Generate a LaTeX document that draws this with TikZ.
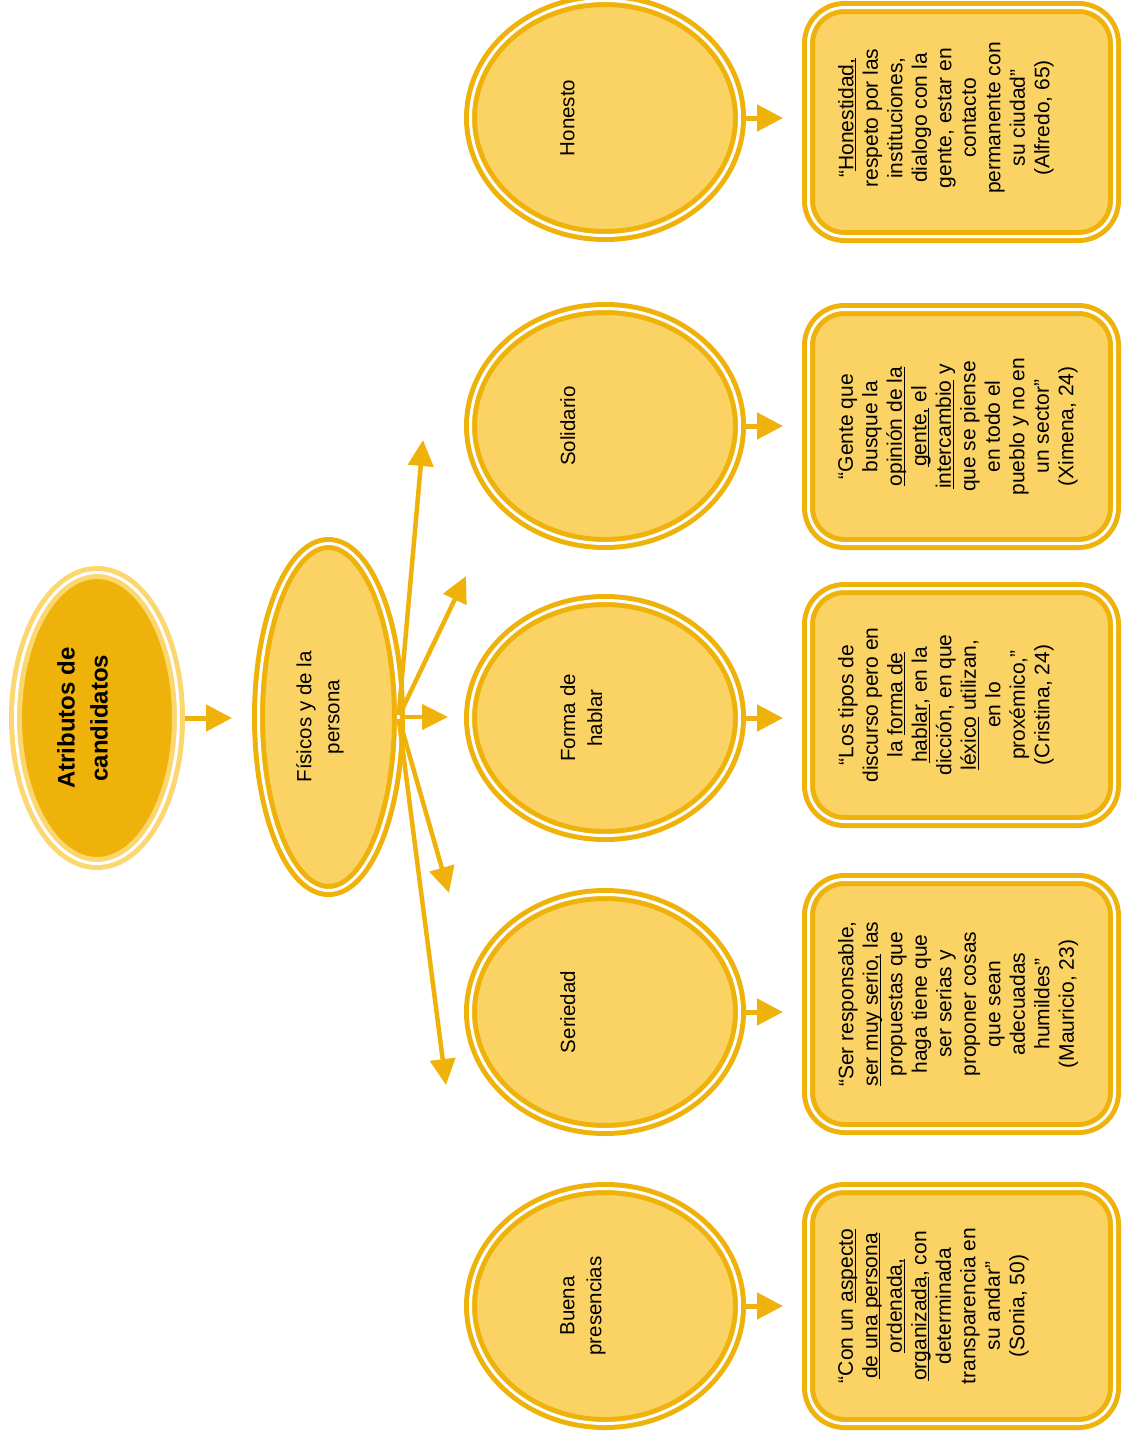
\documentclass[tikz,border=0pt]{standalone}
\usepackage{fontspec}
\setmainfont{Liberation Sans}
\usetikzlibrary{arrows.meta,shapes.geometric}
\newsavebox\ulbox
\newcommand{\uln}[1]{\sbox\ulbox{#1}\rlap{\rule[-3pt]{\wd\ulbox}{1.3pt}}\usebox\ulbox}
\definecolor{gold}{RGB}{239,178,11}
\definecolor{lightfill}{RGB}{250,211,100}
\definecolor{pale}{RGB}{252,214,110}
\tikzset{
 ring/.style={ellipse, inner sep=0pt, outer sep=0pt, draw=gold, double=white, double distance=3pt, line width=5pt, fill=lightfill},
 rootring/.style={ellipse, inner sep=0pt, outer sep=0pt, draw=pale, double=white, double distance=3pt, line width=5pt, fill=gold},
 lvlring/.style={ring, minimum width=269pt, minimum height=235pt},
 qbox/.style={rectangle, rounded corners=36pt, inner sep=0pt, outer sep=0pt, draw=gold, double=white, double distance=3pt, line width=5pt, fill=lightfill, minimum width=306pt},
 roottext/.style={rotate=90, anchor=north, align=center, inner sep=0pt, font=\bfseries\fontsize{24}{33}\selectfont},
 fistext/.style={rotate=90, anchor=north, align=center, inner sep=0pt, font=\fontsize{20.5}{28}\selectfont},
 lvltext/.style={rotate=90, anchor=north, align=center, inner sep=0pt, font=\fontsize{20.5}{27}\selectfont},
 qtext/.style={rotate=90, anchor=north, align=center, inner sep=0pt, font=\fontsize{21}{24.5}\selectfont},
 arr/.style={draw=gold, line width=5pt, -{Triangle[length=26pt,width=26pt]}},
 fan/.style={draw=gold, line width=4.5pt, shorten <=2pt, -{Triangle[length=26pt,width=25pt]}},
}
\begin{document}
\begin{tikzpicture}[x=1pt,y=-1pt]
\useasboundingbox (0,0) rectangle (1123,1443);

% root and second level
\node[rootring, minimum width=163pt, minimum height=291pt] (root) at (97,718) {};
\node[roottext] (rootT) at (57,718) {Atributos de\\candidatos};

\node[ring, minimum width=140pt, minimum height=347pt] (fis) at (328.5,717) {};
\node[fistext] (fisT) at (296,717) {Físicos y de la\\persona};

% level 2 ellipses
\node[lvlring] (hon) at (605,118) {};
\node[lvltext] (honT) at (560,118) {Honesto};
\node[lvlring] (sol) at (605,426) {};
\node[lvltext] (solT) at (560,426) {Solidario};
\node[lvlring] (for) at (605,718) {};
\node[lvltext] (forT) at (560,718) {Forma de\\hablar};
\node[lvlring] (ser) at (605,1012) {};
\node[lvltext] (serT) at (560,1012) {Seriedad};
\node[lvlring] (bue) at (605,1306) {};
\node[lvltext] (bueT) at (560,1306) {Buena\\presencias};

% quote boxes
\node[qbox, minimum height=229pt] (b1) at (961.5,122) {};
\node[qtext] (b1T) at (838,118) {“\uln{Honestidad,}\\respeto por las\\instituciones,\\dialogo con la\\gente, estar en\\contacto\\permanente con\\su ciudad”\\(Alfredo, 65)};

\node[qbox, minimum height=234pt] (b2) at (961.5,426.5) {};
\node[qtext] (b2T) at (838,426.5) {“Gente que\\busque la\\\uln{opinión de la}\\\uln{gente,} el\\\uln{intercambio} y\\que se piense\\en todo el\\pueblo y no en\\un sector”\\(Ximena, 24)};

\node[qbox, minimum height=233pt] (b3) at (961.5,705) {};
\node[qtext] (b3T) at (838,705) {“Los tipos de\\discurso pero en\\la \uln{forma de}\\\uln{hablar}, en la\\dicción, en que\\\uln{léxico} utilizan,\\en lo\\proxémico,”\\(Cristina, 24)};

\node[qbox, minimum height=249pt] (b4) at (961.5,1004) {};
\node[qtext] (b4T) at (838,1004) {“Ser responsable,\\\uln{ser muy serio,} las\\propuestas que\\haga tiene que\\ser serias y\\proponer cosas\\que sean\\adecuadas\\humildes”\\(Mauricio, 23)};

\node[qbox, minimum height=235pt] (b5) at (961.5,1306) {};
\node[qtext] (b5T) at (838,1306) {“Con un \uln{aspecto}\\\uln{de una persona}\\\uln{ordenada,}\\\uln{organizada}, con\\determinada\\transparencia en\\su andar”\\(Sonia, 50)};

% connectors
\draw[arr, shorten <=6.5pt, shorten >=26.5pt] (root.east) -- (root.east -| fis.west);

\coordinate (f1) at (423,440);
\coordinate (f2) at (466,576);
\coordinate (f3) at (448,717);
\coordinate (f4) at (449,893);
\coordinate (f5) at (446,1085);
\draw[fan] (fis.east) -- (f1);
\draw[fan] (fis.east) -- (f2);
\draw[fan] (fis.east) -- (f3);
\draw[fan] (fis.east) -- (f4);
\draw[fan] (fis.east) -- (f5);

\draw[arr, shorten <=6.5pt, shorten >=25.5pt] (hon.east) -- (hon.east -| b1.west);
\draw[arr, shorten <=6.5pt, shorten >=25.5pt] (sol.east) -- (sol.east -| b2.west);
\draw[arr, shorten <=6.5pt, shorten >=25.5pt] (for.east) -- (for.east -| b3.west);
\draw[arr, shorten <=6.5pt, shorten >=25.5pt] (ser.east) -- (ser.east -| b4.west);
\draw[arr, shorten <=6.5pt, shorten >=25.5pt] (bue.east) -- (bue.east -| b5.west);
\end{tikzpicture}
\end{document}
